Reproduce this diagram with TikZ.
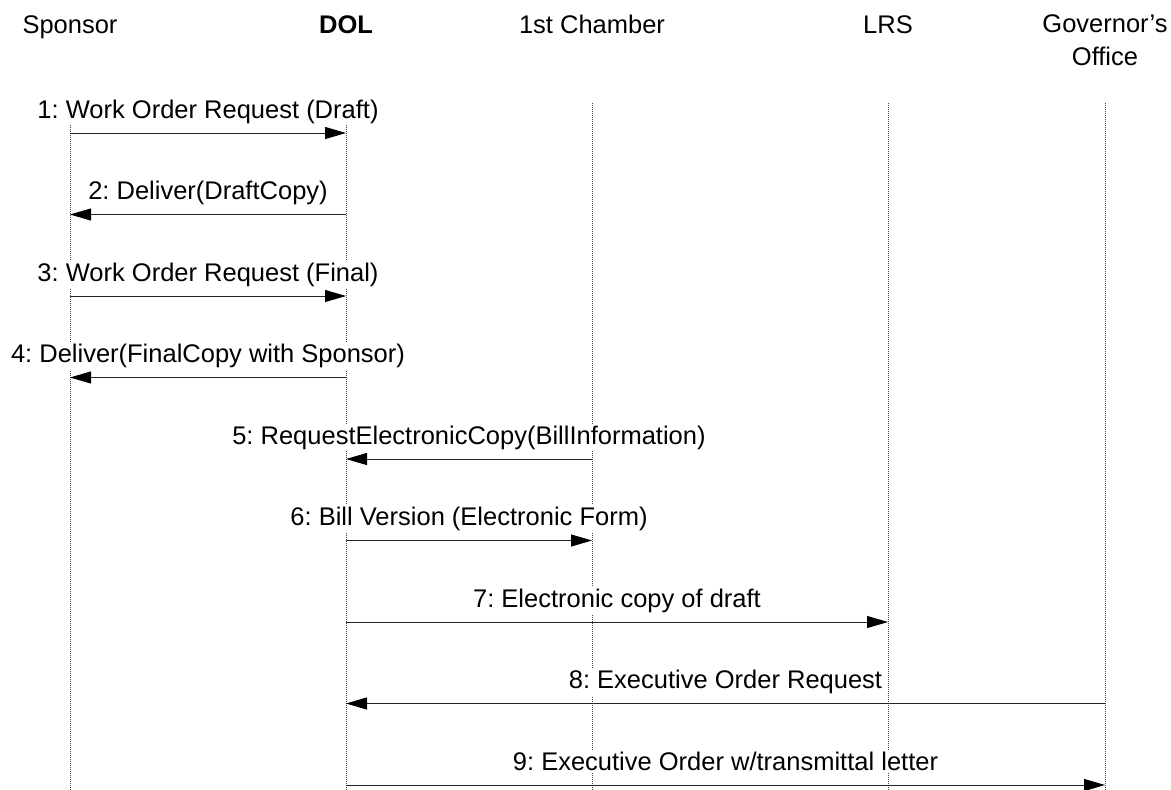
\documentclass[tikz,border=0pt]{standalone}
\usepackage{fontspec}
\setmainfont{Liberation Sans}
\usetikzlibrary{arrows.meta}
\begin{document}
\frenchspacing
\begin{tikzpicture}[x=1pt,y=-1pt,
  font=\fontsize{25.5}{33}\selectfont\frenchspacing,
  lifeline/.style={draw=gray!55!black, line width=0.9pt, dash pattern=on 1pt off 1pt},
  msg/.style={draw=black!85, line width=1pt, -{Triangle[length=21pt,width=12pt,fill=black,color=black]}},
  msglabel/.style={fill=white, inner sep=2pt, anchor=base, yshift=15pt},
  head/.style={anchor=base, inner sep=0pt}]
\useasboundingbox (0,0) rectangle (1171,790);
% headers
\node[head] (hS) at (70,33) {Sponsor};
\node[head, font=\fontsize{25.5}{33}\selectfont\bfseries] (hD) at (346,33) {DOL};
\node[head] (hC) at (592,33) {1st Chamber};
\node[head] (hL) at (888,33) {LRS};
\node[inner sep=0pt, align=center, anchor=north] (hG) at (1105,14.5) {Governor's\\Office};
% lifelines
\foreach \l/\x in {S/70,D/346,C/592,L/888,G/1105}{
  \coordinate (t\l) at (\x,103);
  \coordinate (b\l) at (\x,790);
  \draw[lifeline] (t\l) -- (b\l);
}
% message anchor points
\foreach \n/\y in {1/133,2/214.5,3/296,4/377.5,5/459,6/540.5,7/622,8/703.5,9/785}{
  \foreach \l/\x in {S/70,D/346,C/592,L/888,G/1105}{
    \coordinate (\l\n) at (\x,\y);
  }
}
% messages
\draw[msg] (S1) -- node[msglabel] (m1) {1: Work Order Request (Draft)} (D1);
\draw[msg] (D2) -- node[msglabel] (m2) {2: Deliver(DraftCopy)} (S2);
\draw[msg] (S3) -- node[msglabel] (m3) {3: Work Order Request (Final)} (D3);
\draw[msg] (D4) -- node[msglabel] (m4) {4: Deliver(FinalCopy with Sponsor)} (S4);
\draw[msg] (C5) -- node[msglabel] (m5) {5: RequestElectronicCopy(BillInformation)} (D5);
\draw[msg] (D6) -- node[msglabel] (m6) {6: Bill Version (Electronic Form)} (C6);
\draw[msg] (D7) -- node[msglabel] (m7) {7: Electronic copy of draft} (L7);
\draw[msg] (G8) -- node[msglabel] (m8) {8: Executive Order Request} (D8);
\draw[msg] (D9) -- node[msglabel] (m9) {9: Executive Order w/transmittal letter} (G9);
\end{tikzpicture}
\end{document}
